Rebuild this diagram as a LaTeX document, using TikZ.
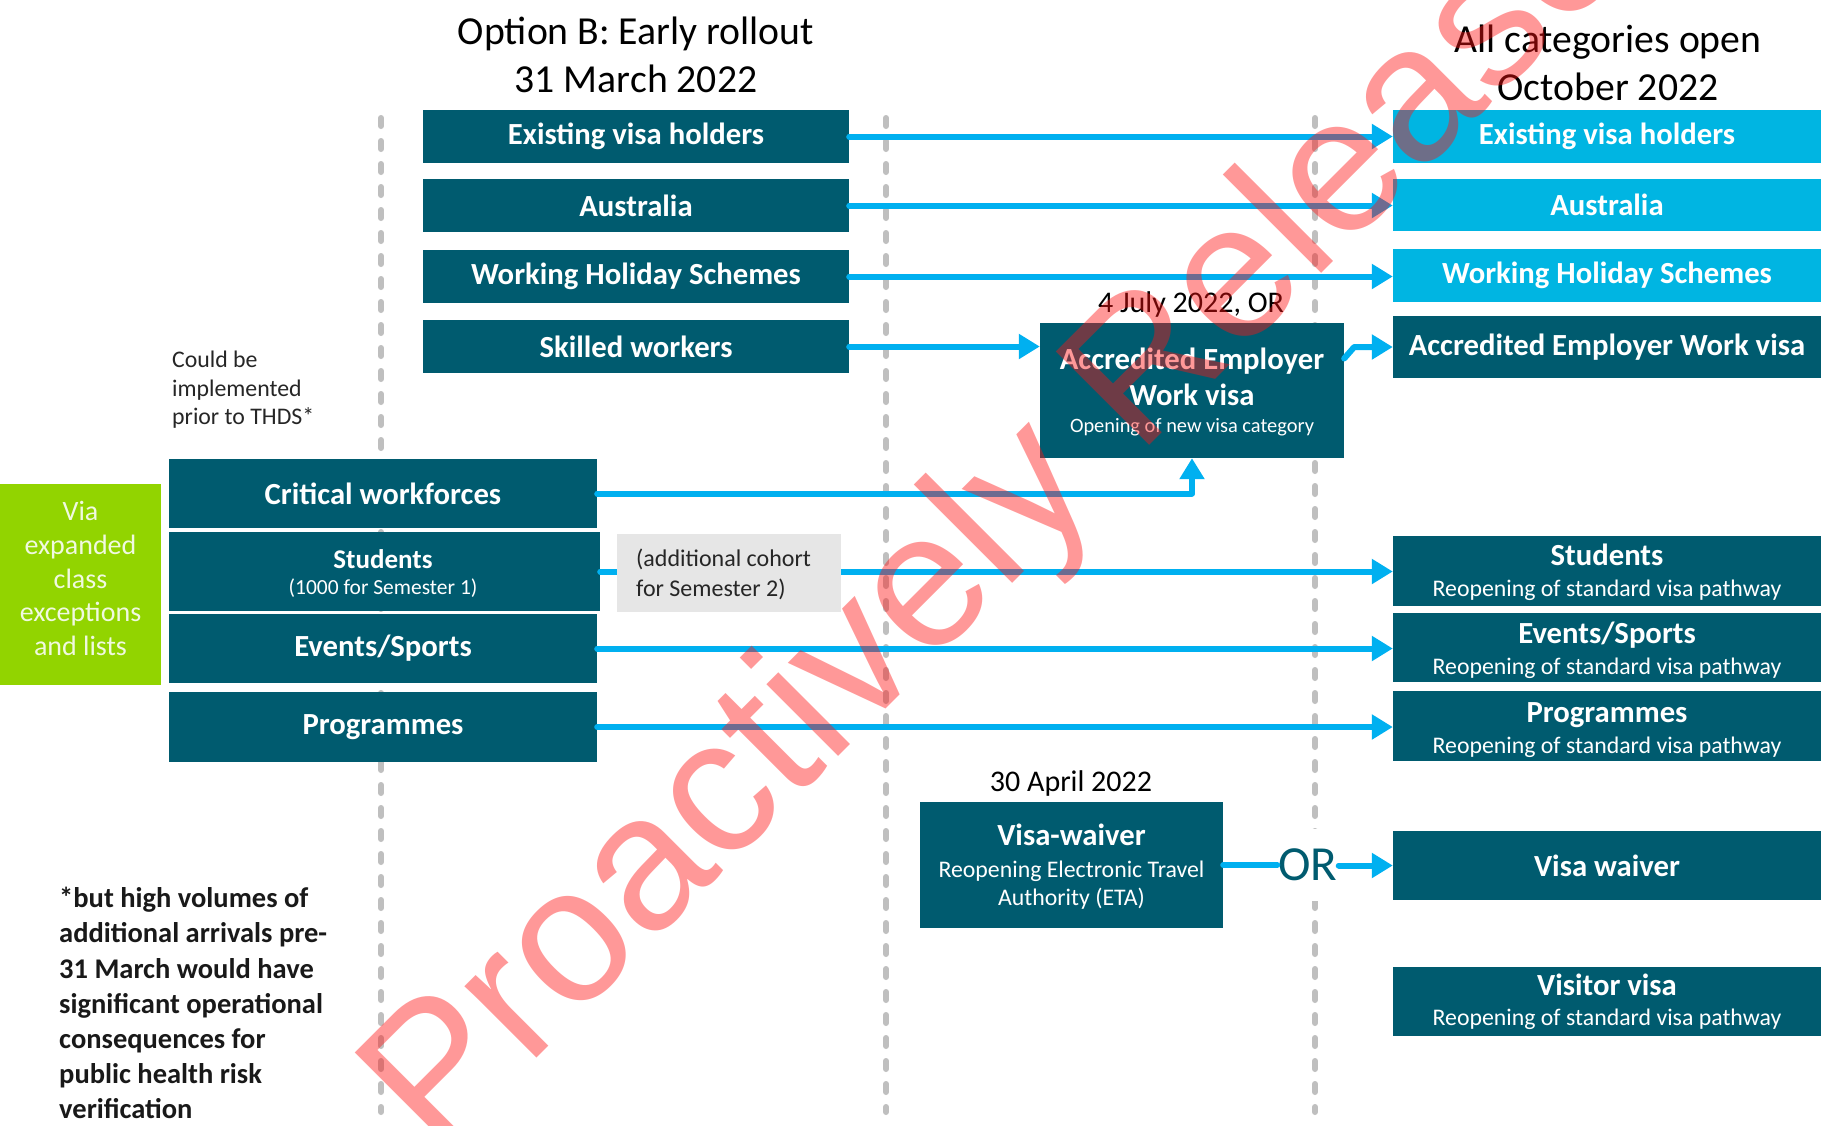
\documentclass[tikz,border=0pt]{standalone}
\usepackage{fontspec}
\setmainfont{Carlito}
\newfontfamily\wmfont{Liberation Sans}
\usetikzlibrary{arrows.meta}
\definecolor{darkbox}{HTML}{005B6F}
\definecolor{lightbox}{HTML}{00B5E2}
\definecolor{arrowblue}{HTML}{00B0F0}
\definecolor{limegreen}{HTML}{92D400}
\definecolor{graybox}{HTML}{E6E6E6}
\definecolor{dashgray}{HTML}{BFBFBF}
\definecolor{wmred}{RGB}{255,18,18}
\definecolor{greentext}{HTML}{F0F9E0}
\tikzset{
  dbox/.style={fill=darkbox, text=white, inner sep=0pt, align=center,
    font=\bfseries\fontsize{30.7}{36}\selectfont},
  lbox/.style={dbox, fill=lightbox},
  ttl/.style={inner sep=0pt, anchor=base, text=white, font=\bfseries\fontsize{30.7}{36}\selectfont},
  subt/.style={inner sep=0pt, anchor=base, text=white, font=\fontsize{23.8}{28}\selectfont},
  arr/.style={draw=arrowblue, line width=6pt, line cap=round, line join=round,
    -{Triangle[length=21pt,width=24pt]}},
  arrline/.style={draw=arrowblue, line width=6pt, line cap=round},
  sepline/.style={draw=dashgray, line width=6pt, line cap=round, dash pattern=on 8pt off 15pt},
  lbl/.style={inner sep=0pt, text=black},
}
\begin{document}
\begin{tikzpicture}[x=1pt, y=-1pt]
\useasboundingbox[fill=white] (0,0) rectangle (1821,1125);

% dashed separators
\coordinate (s1t) at (381,118); \coordinate (s1b) at (381,1112);
\coordinate (s2t) at (886,118); \coordinate (s2b) at (886,1112);
\coordinate (s3t) at (1315,118); \coordinate (s3b) at (1315,1112);
\draw[sepline] (s1t) -- (s1b);
\draw[sepline] (s2t) -- (s2b);
\draw[sepline] (s3t) -- (s3b);

% titles
\node[lbl, align=center, font=\fontsize{39.7}{48}\selectfont] (titleB) at (636,55) {Option B: Early rollout\\31 March 2022};
\node[lbl, align=center, font=\fontsize{39.7}{48}\selectfont] (titleAll) at (1608,63) {All categories open\\October 2022};

% column 1
\node[dbox, minimum width=426pt, minimum height=53pt] (exist) at (636,136.5) {Existing visa holders};
\node[dbox, minimum width=426pt, minimum height=53pt] (aus) at (636,205.5) {Australia};
\node[dbox, minimum width=426pt, minimum height=53pt] (whs) at (636,276.5) {Working Holiday Schemes};
\node[dbox, minimum width=426pt, minimum height=53pt] (skl) at (636,346.5) {Skilled workers};

\node[lbl, align=left, anchor=north west, font=\fontsize{23.8}{28.5}\selectfont, text=black!85] (could) at (172,351) {Could be\\implemented\\prior to THDS*};

\node[fill=limegreen, inner sep=0pt, minimum width=161pt, minimum height=201pt] (green) at (80.5,584.5) {};
\node[inner sep=0pt, text=greentext, align=center, font=\fontsize{28}{33.7}\selectfont] (greenT) at (80.5,578.5) {Via\\expanded\\class\\exceptions\\and lists};

\node[dbox, minimum width=428pt, minimum height=69pt] (crit) at (383,493.5) {Critical workforces};
\node[dbox, minimum width=431pt, minimum height=79pt] (stud) at (384.5,571.5) {};
\node[ttl, font=\bfseries\fontsize{27}{30}\selectfont] (studT) at (383,568.2) {Students};
\node[subt, font=\fontsize{21.5}{26}\selectfont] (studS) at (383,594.4) {(1000 for Semester 1)};
\node[dbox, minimum width=428pt, minimum height=69pt] (ev) at (383,648.5) {Events/Sports};
\node[dbox, minimum width=428pt, minimum height=70pt] (prog) at (383,727) {Programmes};

% middle column
\node[lbl, font=\fontsize{30}{36}\selectfont] (july) at (1191,304) {4 July 2022, OR};
\node[dbox, minimum width=304pt, minimum height=135pt] (mid) at (1192,390.5) {};
\node[ttl] (midT1) at (1192,369.5) {Accredited Employer};
\node[ttl] (midT2) at (1192,405.5) {Work visa};
\node[subt, font=\fontsize{20.4}{24}\selectfont] (midS) at (1192,432.5) {Opening of new visa category};

\node[lbl, font=\fontsize{30}{36}\selectfont] (april) at (1071,783) {30 April 2022};
\node[dbox, minimum width=303pt, minimum height=126pt] (vw) at (1071.5,865) {};
\node[ttl] (vwT) at (1071.5,845.7) {Visa-waiver};
\node[subt] (vwS1) at (1071.5,877.3) {Reopening Electronic Travel};
\node[subt] (vwS2) at (1071.5,905.1) {Authority (ETA)};

% right column
\node[lbox, minimum width=428pt, minimum height=53pt] (rexist) at (1607,136.5) {Existing visa holders};
\node[lbox, minimum width=428pt, minimum height=52pt] (raus) at (1607,205) {Australia};
\node[lbox, minimum width=428pt, minimum height=53pt] (rwhs) at (1607,275.5) {Working Holiday Schemes};
\node[dbox, minimum width=428pt, minimum height=62pt] (racc) at (1607,347) {Accredited Employer Work visa};

\node[dbox, minimum width=428pt, minimum height=70pt] (rstud) at (1607,571) {};
\node[ttl] (rstudT) at (1607,565.8) {Students};
\node[subt] (rstudS) at (1607,596.2) {Reopening of standard visa pathway};

\node[dbox, minimum width=428pt, minimum height=69pt] (rev) at (1607,647.5) {};
\node[ttl] (revT) at (1607,643.6) {Events/Sports};
\node[subt] (revS) at (1607,674) {Reopening of standard visa pathway};

\node[dbox, minimum width=428pt, minimum height=70pt] (rprog) at (1607,726) {};
\node[ttl] (rprogT) at (1607,722.6) {Programmes};
\node[subt] (rprogS) at (1607,753) {Reopening of standard visa pathway};

\node[dbox, minimum width=428pt, minimum height=69pt] (rvw) at (1607,865.5) {Visa waiver};

\node[dbox, minimum width=428pt, minimum height=69pt] (rvis) at (1607,1001.5) {};
\node[ttl] (rvisT) at (1607,995.5) {Visitor visa};
\node[subt] (rvisS) at (1607,1025.9) {Reopening of standard visa pathway};

% footnote
\node[lbl, align=left, anchor=north west, font=\bfseries\fontsize{28.5}{35.2}\selectfont, text=black!90] (foot) at (59,887) {*but high volumes of\\additional arrivals pre-\\31 March would have\\significant operational\\consequences for\\public health risk\\verification};

% OR label
\node[fill=white, text=darkbox, inner xsep=1pt, inner ysep=0pt, minimum height=72pt, font=\fontsize{49}{50}\selectfont] (or) at (1308,865) {OR};

% arrows
\draw[arr] (exist.east) -- (exist.east -| rexist.west);
\draw[arr] (aus.east) -- (aus.east -| raus.west);
\draw[arr] (whs.east) -- (whs.east -| rwhs.west);
\draw[arr] (skl.east) -- (skl.east -| mid.west);
\draw[arr] ([yshift=32pt]mid.east) -- ++(10,-11.5) -- (racc.west);
\draw[arr] (crit.east) -- (crit.east -| mid.south) -- (mid.south);
\draw[arr] (stud.east) -- (stud.east -| rstud.west);
\draw[arr] (ev.east) -- (ev.east -| rev.west);
\draw[arr] (prog.east) -- (prog.east -| rprog.west);
\draw[arrline] (vw.east) -- (or.west |- vw.east);
\draw[arr] (or.east |- rvw.west) -- (rvw.west);

% gray cohort box over the students arrow
\node[fill=graybox, inner sep=0pt, minimum width=224pt, minimum height=78pt] (cohort) at (729,573) {};
\node[lbl, anchor=base west, text=black!85, font=\fontsize{24}{29}\selectfont] (cohortA) at (636,566) {(additional cohort};
\node[lbl, anchor=base west, text=black!85, font=\fontsize{24}{29}\selectfont] (cohortB) at (636,596.2) {for Semester 2)};

% watermark
\begin{scope}
\clip (0,0) rectangle (1821,1125);
\node[font=\wmfont\fontsize{192}{192}\selectfont, text=wmred, opacity=0.43, rotate=45, anchor=base west, inner sep=0pt] (wm) at (437,1158) {Proactively Released};
\end{scope}
\end{tikzpicture}
\end{document}
